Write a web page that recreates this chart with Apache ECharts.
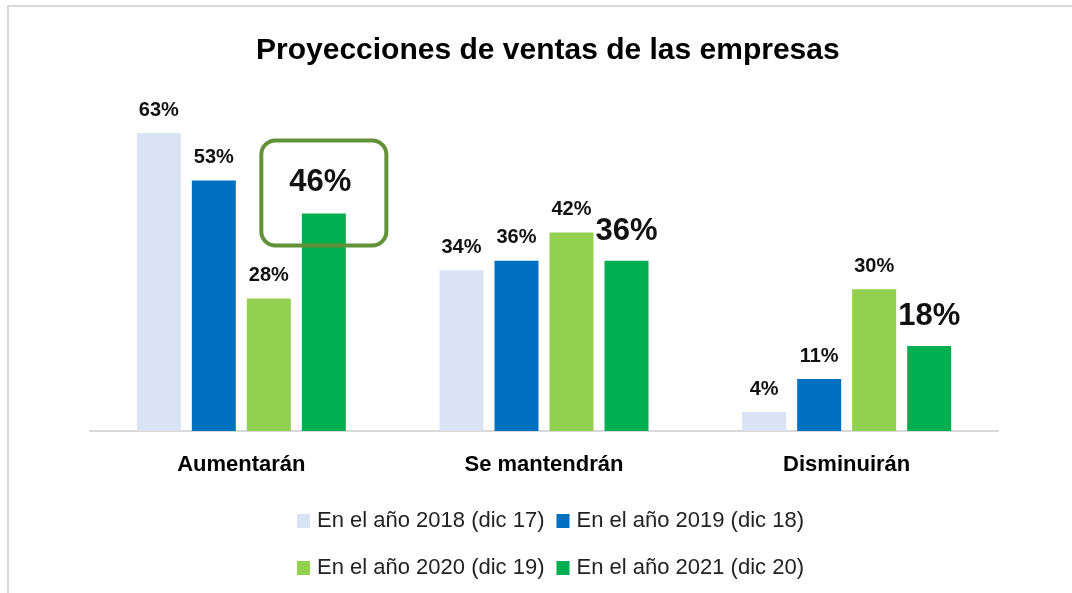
<!DOCTYPE html>
<html>
<head>
<meta charset="utf-8">
<script src="https://cdn.jsdelivr.net/npm/echarts@6/dist/echarts.min.js"></script>
<style>
    html, body { margin: 0; padding: 0; background: #fff; }
    #chart { width: 1072px; height: 593px; }
</style>
</head>
<body>
<div id="chart"></div>
<script>
var categories = ['Aumentarán', 'Se mantendrán', 'Disminuirán'];
var seriesNames = ['En el año 2018 (dic 17)', 'En el año 2019 (dic 18)', 'En el año 2020 (dic 19)', 'En el año 2021 (dic 20)'];
var v2018 = [63, 34, 4];
var v2019 = [53, 36, 11];
var v2020 = [28, 42, 30];
var v2021 = [46, 36, 18];
var highlightIndex = 0;   // valor resaltado con recuadro

var colors = ['#dae3f3', '#0070c0', '#92d050', '#00b050'];
var font = '"Liberation Sans", Arial, sans-serif';

var chart = echarts.init(document.getElementById('chart'));

function smallLabel() {
    return {
        show: true,
        position: 'top',
        distance: 13,
        formatter: '{c}%',
        color: '#111',
        fontFamily: font,
        fontWeight: 'bold',
        fontSize: 20
    };
}

var data2021 = v2021.map(function (v, i) {
    if (i !== highlightIndex) return v;
    return {
        value: v,
        label: {
            distance: -32,
            borderColor: '#63913a',
            borderWidth: 4,
            borderRadius: 14,
            padding: [26, 35, 48, 28]
        }
    };
});

var option = {
    animation: false,
    color: colors,
    title: {
        text: 'Proyecciones de ventas de las empresas',
        left: 256,
        top: 36,
        padding: 0,
        textStyle: {
            fontFamily: font,
            fontWeight: 'bold',
            fontSize: 30,
            color: '#000'
        }
    },
    legend: [
        {
            data: seriesNames.slice(0, 2),
            left: 292,
            top: 505,
            itemWidth: 13,
            itemHeight: 14,
            itemGap: 12,
            icon: 'rect',
            textStyle: { fontFamily: font, fontSize: 22, color: '#222', padding: [0, 0, 0, 2] }
        },
        {
            data: seriesNames.slice(2, 4),
            left: 292,
            top: 552,
            itemWidth: 13,
            itemHeight: 14,
            itemGap: 12,
            icon: 'rect',
            textStyle: { fontFamily: font, fontSize: 22, color: '#222', padding: [0, 0, 0, 2] }
        }
    ],
    grid: {
        left: 90,
        right: 74,
        top: 100,
        bottom: 162
    },
    xAxis: {
        type: 'category',
        data: categories,
        axisTick: { show: false },
        axisLine: { lineStyle: { color: '#d9d9d9', width: 2 } },
        axisLabel: {
            margin: 23,
            color: '#000',
            fontFamily: font,
            fontWeight: 'bold',
            fontSize: 22
        }
    },
    yAxis: {
        type: 'value',
        min: 0,
        max: 70,
        show: false,
        splitLine: { show: false }
    },
    graphic: [
        {
            type: 'rect',
            z: -1,
            shape: { x: 8, y: 6, width: 1200, height: 700 },
            style: { fill: 'none', stroke: '#d9d9d9', lineWidth: 2 }
        }
    ],
    series: [
        { name: seriesNames[0], type: 'bar', data: v2018, barWidth: 44, barGap: '25%', label: smallLabel() },
        { name: seriesNames[1], type: 'bar', data: v2019, barWidth: 44, barGap: '25%', label: smallLabel() },
        { name: seriesNames[2], type: 'bar', data: v2020, barWidth: 44, barGap: '25%', label: smallLabel() },
        {
            name: seriesNames[3], type: 'bar', data: data2021, barWidth: 44, barGap: '25%',
            label: {
                show: true,
                position: 'top',
                distance: 14,
                formatter: '{c}%',
                color: '#111',
                fontFamily: font,
                fontWeight: 'bold',
                fontSize: 31
            }
        }
    ]
};

chart.setOption(option);
</script>
</body>
</html>
